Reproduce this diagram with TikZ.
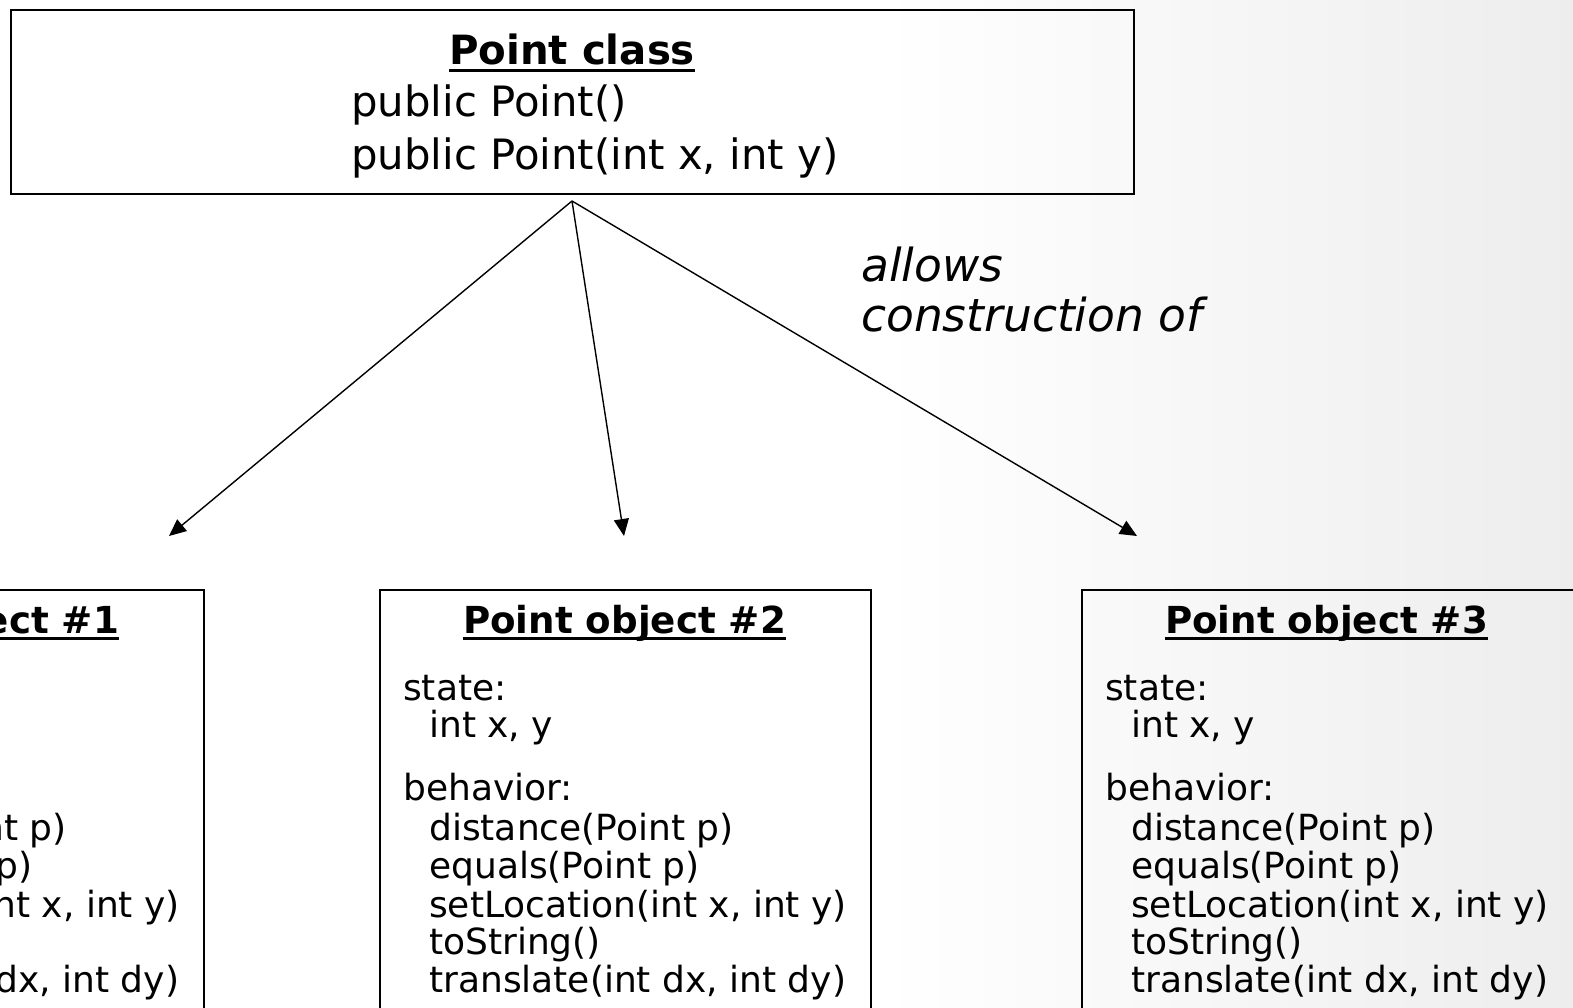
\documentclass[tikz,border=0pt]{standalone}
\usepackage{fontspec}
\setmainfont{DejaVu Sans}
\usetikzlibrary{arrows.meta}
\newcommand{\myul}[1]{\setbox0=\hbox{#1}\rlap{\rule[-7pt]{\wd0}{3pt}}\box0}
\tikzset{
  boxline/.style={draw=black, line width=2pt},
  conn/.style={line width=1.4pt, -{Triangle[length=17pt,width=15pt]}},
  bodytxt/.style={anchor=base west, inner sep=0pt, font=\fontsize{36}{40}\selectfont},
  toptxt/.style={anchor=base west, inner sep=0pt, font=\fontsize{41.8}{44}\selectfont},
  titletxt/.style={anchor=base, inner sep=0pt, font=\fontsize{37.2}{40}\selectfont\bfseries},
  labtxt/.style={anchor=base west, inner sep=0pt, font=\fontsize{45.5}{48}\selectfont\itshape},
}
\newcommand{\objbox}[4]{%
  \begin{scope}[shift={(#2,0)}]
    \node[boxline, minimum width=#4, minimum height=600pt, anchor=north west, inner sep=0pt] (#1) at (379,589) {};
    \node[titletxt] (#1t) at (624.5,633) {\myul{Point object \##3}};
    \node[bodytxt] (#1a) at (403,700) {state:};
    \node[bodytxt] (#1b) at (429,737) {int x, y};
    \node[bodytxt] (#1c) at (403,800) {behavior:};
    \node[bodytxt] (#1d) at (429,840) {distance(Point p)};
    \node[bodytxt] (#1e) at (429,878) {equals(Point p)};
    \node[bodytxt] (#1f) at (429,917) {setLocation(int x, int y)};
    \node[bodytxt] (#1g) at (429,954) {toString()};
    \node[bodytxt] (#1h) at (429,992) {translate(int dx, int dy)};
  \end{scope}}
\begin{document}
\begin{tikzpicture}[x=1pt,y=-1pt]
  \useasboundingbox (0,0) rectangle (1573,1008);
  \clip (0,0) rectangle (1573,1008);
  \shade[left color=white, right color=black!7] (880,0) rectangle (1573,1008);
  % class box
  \node[draw=black, line width=1.6pt, minimum width=1123pt, minimum height=184pt, inner sep=0pt, anchor=north west] (cls) at (10,9) {};
  \node[titletxt, font=\fontsize{40.3}{44}\selectfont\bfseries] (clst) at (572,65) {\myul{Point class}};
  \node[toptxt] (ctor1) at (351,117) {public Point()};
  \node[toptxt] (ctor2) at (351,170) {public Point(int x, int y)};
  % label
  \node[labtxt] (lab1) at (861,281) {allows};
  \node[labtxt] (lab2) at (861,331) {construction of};
  % object boxes
  \objbox{ob1}{-667}{1}{491pt}
  \objbox{ob2}{0}{2}{491pt}
  \objbox{ob3}{702}{3}{600pt}
  % connectors
  \coordinate (apex) at (572,201);
  \coordinate (tip1) at (169,536);
  \coordinate (tip2) at (624,536);
  \coordinate (tip3) at (1137,536);
  \draw[conn] (apex) -- (tip1);
  \draw[conn] (apex) -- (tip2);
  \draw[conn] (apex) -- (tip3);
\end{tikzpicture}
\end{document}
